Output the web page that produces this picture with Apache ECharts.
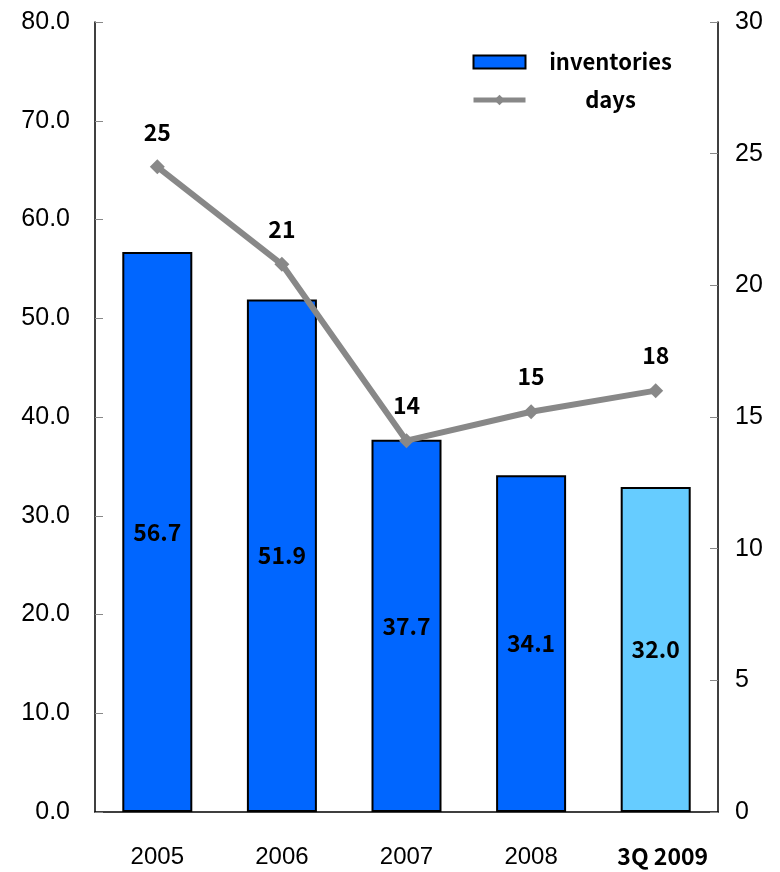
<!DOCTYPE html>
<html>
<head>
<meta charset="utf-8">
<script src="https://cdn.jsdelivr.net/npm/echarts@6/dist/echarts.min.js"></script>
<style>
  html, body {margin: 0; padding: 0; background: #fff;}
  #main {width: 780px; height: 872px;}
</style>
</head>
<body>
<div id="main"></div>
<script>
const categories = ['2005', '2006', '2007', '2008', '3Q 2009'];
const inventories = [56.7, 51.9, 37.7, 34.1, 32.9];
const inventoryLabels = ['56.7', '51.9', '37.7', '34.1', '32.0'];
const days = [24.5, 20.8, 14.1, 15.2, 16.0];
const dayLabels = ['25', '21', '14', '15', '18'];

const labelFont = '"Noto Sans CJK JP", "Liberation Sans", sans-serif';
const tickFont = '"Liberation Sans", Arial, sans-serif';

const chart = echarts.init(document.getElementById('main'));

chart.setOption({
  animation: false,
  backgroundColor: '#fff',
  grid: {left: 95, right: 62, top: 22, bottom: 60},
  legend: {
    orient: 'vertical',
    left: 466,
    top: 46,
    itemWidth: 52,
    itemHeight: 13,
    itemGap: 16,
    data: [
      {name: 'inventories', icon: 'rect', itemStyle: {borderWidth: 2, borderColor: '#000'}},
      {name: 'days', lineStyle: {width: 5, color: '#888'}, itemStyle: {color: '#888'}}
    ],
    formatter: name => '{t|' + name + '}',
    textStyle: {
      rich: {
        t: {width: 160, align: 'center', lineHeight: 28, fontSize: 22, fontWeight: 'bold', fontFamily: labelFont, color: '#000'}
      }
    }
  },
  xAxis: {
    type: 'category',
    data: categories,
    axisLine: {lineStyle: {color: '#000', width: 1.5}},
    axisTick: {inside: true, length: 8, lineStyle: {color: '#888'}},
    axisLabel: {
      interval: 0,
      margin: 33,
      formatter: (v, i) => i === categories.length - 1 ? '{b|' + v + '}' : '{n|' + v + '}',
      rich: {
        n: {fontSize: 24, fontFamily: tickFont, color: '#000'},
        b: {fontSize: 23, fontWeight: 'bold', fontFamily: labelFont, color: '#000', padding: [0, 0, 0, 14]}
      }
    }
  },
  yAxis: [
    {
      type: 'value',
      min: 0, max: 80, interval: 10,
      splitLine: {show: false},
      axisLine: {show: true, lineStyle: {color: '#000', width: 1.5}},
      axisTick: {show: true, inside: true, length: 8, lineStyle: {color: '#888'}},
      axisLabel: {margin: 25, fontSize: 25, fontFamily: tickFont, color: '#000', formatter: v => v.toFixed(1)}
    },
    {
      type: 'value',
      min: 0, max: 30, interval: 5,
      splitLine: {show: false},
      axisLine: {show: true, lineStyle: {color: '#000', width: 1.5}},
      axisTick: {show: true, inside: true, length: 8, lineStyle: {color: '#888'}},
      axisLabel: {margin: 17, fontSize: 25, fontFamily: tickFont, color: '#000'}
    }
  ],
  series: [
    {
      name: 'inventories',
      type: 'bar',
      yAxisIndex: 0,
      barWidth: 70,
      itemStyle: {color: '#0066FF', borderColor: '#000', borderWidth: 2},
      data: inventories.map((v, i) => i === inventories.length - 1
        ? {value: v, itemStyle: {color: '#66CCFF'}}
        : v),
      label: {
        show: true,
        position: 'inside',
        fontSize: 23,
        fontWeight: 'bold',
        fontFamily: labelFont,
        color: '#000',
        formatter: p => inventoryLabels[p.dataIndex]
      }
    },
    {
      name: 'days',
      type: 'line',
      yAxisIndex: 1,
      data: days,
      symbol: 'diamond',
      symbolSize: 15,
      lineStyle: {color: '#888', width: 6},
      itemStyle: {color: '#888'},
      label: {
        show: true,
        position: 'top',
        distance: 16,
        fontSize: 23,
        fontWeight: 'bold',
        fontFamily: labelFont,
        color: '#000',
        formatter: p => dayLabels[p.dataIndex]
      }
    }
  ]
});
</script>
</body>
</html>
